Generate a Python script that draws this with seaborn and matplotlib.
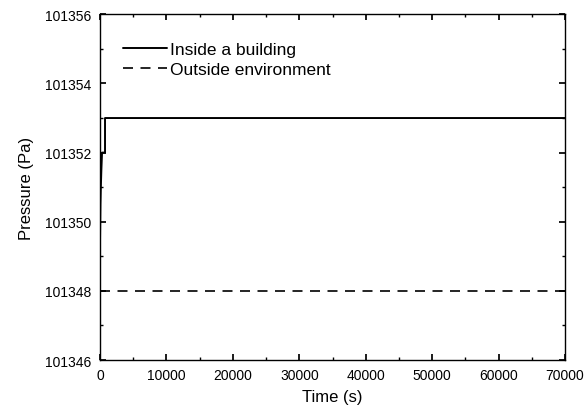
import matplotlib
matplotlib.use("Agg")
import matplotlib.pyplot as plt
import seaborn as sns
import pandas as pd
from matplotlib.ticker import MultipleLocator

sns.set_theme(style="ticks")
plt.rcParams['font.family'] = ['Liberation Sans', 'DejaVu Sans']
plt.rcParams['text.color'] = 'black'
plt.rcParams['axes.labelcolor'] = 'black'

time_inside = [0, 0, 60, 120, 200, 300, 450, 750, 750, 70000]
p_inside = [101346, 101349.5, 101350.5, 101351, 101351.5, 101352, 101352, 101352, 101353, 101353]
time_outside = [0, 70000]
p_outside = [101348, 101348]

df_in = pd.DataFrame({"t": time_inside, "p": p_inside})
df_out = pd.DataFrame({"t": time_outside, "p": p_outside})

fig = plt.figure(figsize=(5.85, 4.14), dpi=100)
ax = fig.add_axes([0.171, 0.128, 0.795, 0.835])
sns.lineplot(data=df_in, x="t", y="p", ax=ax, color="black", lw=1.4, sort=False,
             estimator=None, label="Inside a building")
sns.lineplot(data=df_out, x="t", y="p", ax=ax, color="black", lw=1.2, sort=False,
             estimator=None, linestyle=(0, (6, 4.5)), label="Outside environment")

ax.set_xlim(0, 70000)
ax.set_ylim(101346, 101356)
ax.xaxis.set_major_locator(MultipleLocator(10000))
ax.xaxis.set_minor_locator(MultipleLocator(5000))
ax.yaxis.set_major_locator(MultipleLocator(2))
ax.yaxis.set_minor_locator(MultipleLocator(1))
ax.ticklabel_format(useOffset=False, style='plain')
ax.tick_params(which='both', direction='in', top=True, right=True, labelsize=10,
               colors='black', pad=6)
ax.tick_params(which='major', length=4)
ax.tick_params(which='minor', length=2)
for s in ax.spines.values():
    s.set_color('black'); s.set_linewidth(1.0)
ax.set_xlabel("Time (s)", fontsize=12, labelpad=5)
ax.set_ylabel("Pressure (Pa)", fontsize=12, labelpad=8)
leg = ax.legend(loc="upper left", frameon=False, fontsize=12.5, handlelength=2.5,
                handletextpad=0.2, borderaxespad=0.0, labelspacing=0.25,
                bbox_to_anchor=(0.035, 0.94))
fig.savefig("out.png", dpi=100)
